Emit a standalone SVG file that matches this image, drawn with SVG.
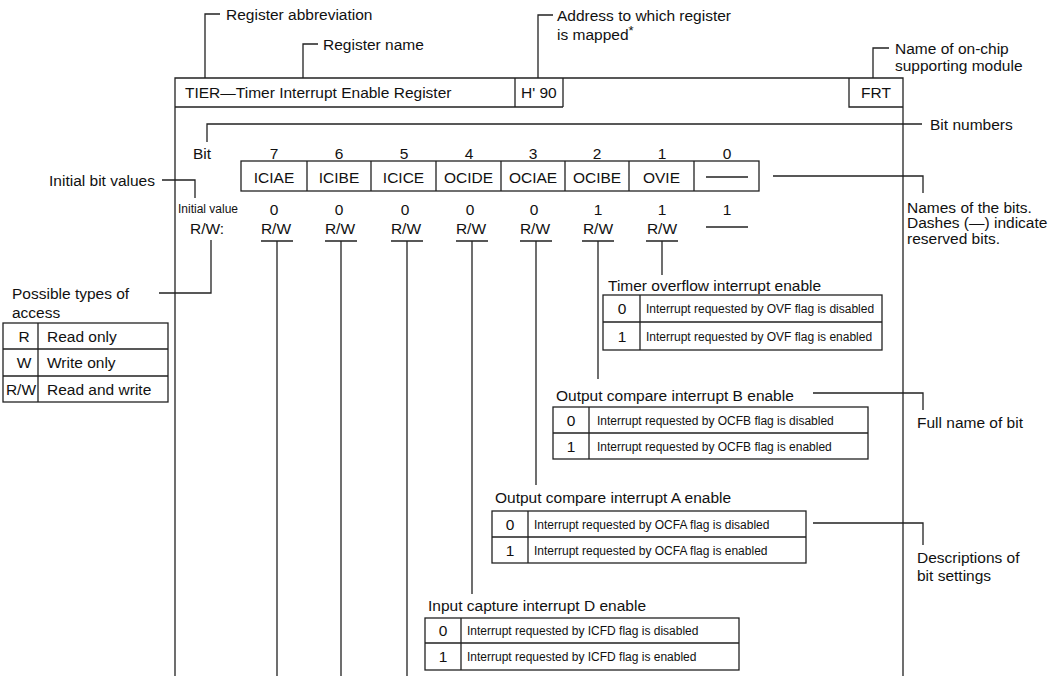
<svg xmlns="http://www.w3.org/2000/svg" width="1062" height="676" viewBox="0 0 1062 676">
<style>
.t{font-family:"Liberation Sans",Arial,sans-serif;font-size:15.5px;fill:#111}
.s{font-size:12px}
.c{text-anchor:middle}
.e{text-anchor:end}
.ln{stroke:#222;stroke-width:1.3;fill:none}
.bx{fill:none;stroke:#222;stroke-width:1.3}
</style>
<rect width="1062" height="676" fill="#fff"/>
<g id="connectors" class="ln">
<path d="M205,78V14H220"/>
<path d="M303,78V44H318"/>
<path d="M538,78V15H553"/>
<path d="M873,78V48H889"/>
<path d="M207,142V124H922"/>
<path d="M773,176H923V193"/>
<path d="M162,180H195V198"/>
<path d="M211,240V293H159"/>
<path d="M277,241V676M261,241H293"/>
<path d="M341,241V676M325,241H357"/>
<path d="M407,241V676M391,241H423"/>
<path d="M472,241V594M456,241H488"/>
<path d="M536,241V485M520,241H552"/>
<path d="M598,241V379M582,241H614"/>
<path d="M662,241V275M646,241H678"/>
<path d="M813,393H923V410"/>
<path d="M813,523H923V545"/>
</g>
<g id="register-frame">
<path class="ln" d="M175,676V78H903V676"/>
<path class="ln" d="M175,107H563M515,78V107M563,78V107M849,78V107H903"/>
<text class="t" x="185" y="98">TIER—Timer Interrupt Enable Register</text>
<text class="t" x="521" y="98">H' 90</text>
<text class="t c" x="876" y="98">FRT</text>
</g>
<g id="label-abbrev"><text class="t" x="226" y="19.5">Register abbreviation</text></g>
<g id="label-name"><text class="t" x="323" y="49.5">Register name</text></g>
<g id="label-address"><text class="t" x="557" y="20.5">Address to which register</text><text class="t" x="557" y="39.5">is mapped<tspan font-size="13" dy="-5">*</tspan></text></g>
<g id="label-module"><text class="t" x="895" y="53.5">Name of on-chip</text><text class="t" x="895" y="70.5">supporting module</text></g>
<g id="label-bitnumbers"><text class="t" x="930" y="129.5">Bit numbers</text></g>
<g id="label-bitnames"><text class="t" x="907" y="212.5">Names of the bits.</text><text class="t" x="907" y="228">Dashes (—) indicate</text><text class="t" x="907" y="243.5">reserved bits.</text></g>
<g id="label-initial"><text class="t e" x="155" y="185.5">Initial bit values</text></g>
<g id="label-fullname"><text class="t" x="917" y="427.5">Full name of bit</text></g>
<g id="label-descriptions"><text class="t" x="917" y="562.5">Descriptions of</text><text class="t" x="917" y="580.5">bit settings</text></g>
<g id="bit-table">
<text class="t" x="193" y="158.5">Bit</text>
<g class="t c">
<text x="274" y="158.5">7</text><text x="339" y="158.5">6</text><text x="404" y="158.5">5</text><text x="469" y="158.5">4</text><text x="533" y="158.5">3</text><text x="597" y="158.5">2</text><text x="662" y="158.5">1</text><text x="727" y="158.5">0</text>
</g>
<rect class="bx" x="241" y="161" width="518" height="30"/>
<path class="ln" d="M307,161V191M371,161V191M436,161V191M501,161V191M565,161V191M629,161V191M694,161V191M706,177H748"/>
<g class="t c">
<text x="274" y="182.5">ICIAE</text><text x="339" y="182.5">ICIBE</text><text x="403.5" y="182.5">ICICE</text><text x="468.5" y="182.5">OCIDE</text><text x="533" y="182.5">OCIAE</text><text x="597" y="182.5">OCIBE</text><text x="661.5" y="182.5">OVIE</text>
</g>
<text class="t s" x="178" y="213" textLength="60">Initial value</text>
<g class="t c">
<text x="274" y="214.5">0</text><text x="339" y="214.5">0</text><text x="405" y="214.5">0</text><text x="470" y="214.5">0</text><text x="534" y="214.5">0</text><text x="598" y="214.5">1</text><text x="662" y="214.5">1</text><text x="727" y="214.5">1</text>
</g>
<text class="t" x="190" y="233.5">R/W:</text>
<g class="t c">
<text x="276" y="233.5">R/W</text><text x="340" y="233.5">R/W</text><text x="406" y="233.5">R/W</text><text x="471" y="233.5">R/W</text><text x="535" y="233.5">R/W</text><text x="598" y="233.5">R/W</text><text x="662" y="233.5">R/W</text>
</g>
<path class="ln" d="M706,227H748"/>
</g>
<g id="access-legend">
<text class="t" x="12" y="298.5">Possible types of</text>
<text class="t" x="12" y="317.5">access</text>
<rect class="bx" x="3" y="323" width="165" height="79"/>
<path class="ln" d="M3,349H168M3,376H168M38,323V402"/>
<text class="t c" x="24" y="342">R</text><text class="t" x="47" y="342">Read only</text>
<text class="t c" x="24" y="368">W</text><text class="t" x="47" y="368">Write only</text>
<text class="t c" x="21" y="394.5">R/W</text><text class="t" x="47" y="394.5">Read and write</text>
</g>
<g id="ovie-desc">
<text class="t" x="608" y="290.5">Timer overflow interrupt enable</text>
<rect class="bx" x="603" y="295" width="279" height="55"/>
<path class="ln" d="M603,322H882M640,295V350"/>
<text class="t c" x="622" y="314">0</text><text class="t s" x="646" y="313">Interrupt requested by OVF flag is disabled</text>
<text class="t c" x="622" y="341.5">1</text><text class="t s" x="646" y="340.5">Interrupt requested by OVF flag is enabled</text>
</g>
<g id="ocibe-desc">
<text class="t" x="556" y="400.5">Output compare interrupt B enable</text>
<rect class="bx" x="553" y="407" width="315" height="52"/>
<path class="ln" d="M553,433H868M589,407V459"/>
<text class="t c" x="571" y="425.5">0</text><text class="t s" x="597" y="424.5">Interrupt requested by OCFB flag is disabled</text>
<text class="t c" x="571" y="451.5">1</text><text class="t s" x="597" y="450.5">Interrupt requested by OCFB flag is enabled</text>
</g>
<g id="ociae-desc">
<text class="t" x="495" y="502.5">Output compare interrupt A enable</text>
<rect class="bx" x="492" y="511" width="314" height="52"/>
<path class="ln" d="M492,537H806M528,511V563"/>
<text class="t c" x="510" y="529.5">0</text><text class="t s" x="534" y="528.5">Interrupt requested by OCFA flag is disabled</text>
<text class="t c" x="510" y="555.5">1</text><text class="t s" x="534" y="554.5">Interrupt requested by OCFA flag is enabled</text>
</g>
<g id="ocide-desc">
<text class="t" x="428" y="610.5">Input capture interrupt D enable</text>
<rect class="bx" x="425" y="618" width="314" height="52"/>
<path class="ln" d="M425,643H739M461,618V670"/>
<text class="t c" x="443" y="636">0</text><text class="t s" x="467" y="635">Interrupt requested by ICFD flag is disabled</text>
<text class="t c" x="443" y="662">1</text><text class="t s" x="467" y="661">Interrupt requested by ICFD flag is enabled</text>
</g>
</svg>
